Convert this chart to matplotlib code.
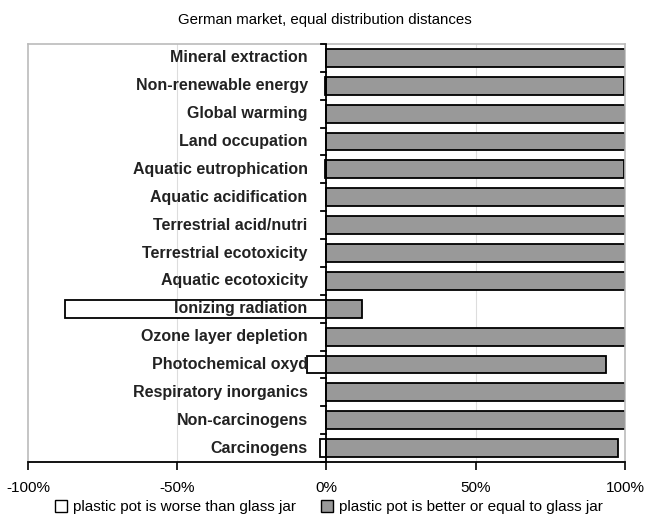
import numpy as np
import matplotlib.pyplot as plt
from matplotlib.patches import Patch
from matplotlib import font_manager

names = [f.name for f in font_manager.fontManager.ttflist]
narrow = 'Liberation Sans Narrow' if 'Liberation Sans Narrow' in names else 'Liberation Sans'
plt.rcParams['font.family'] = [narrow, 'DejaVu Sans']

categories = ['Mineral extraction', 'Non-renewable energy', 'Global warming',
              'Land occupation', 'Aquatic eutrophication', 'Aquatic acidification',
              'Terrestrial acid/nutri', 'Terrestrial ecotoxicity', 'Aquatic ecotoxicity',
              'Ionizing radiation', 'Ozone layer depletion', 'Photochemical oxyd',
              'Respiratory inorganics', 'Non-carcinogens', 'Carcinogens']
worse = [0, -0.5, 0, 0, -0.5, 0, 0, 0, 0, -87.5, 0, -6.4, 0, 0, -2.3]
better = [100, 99.5, 100, 100, 99.5, 100, 100, 100, 100, 12, 100, 93.6, 100, 100, 97.7]

fig = plt.figure(figsize=(6.45, 5.24), dpi=100)
ax = fig.add_axes([0.0434, 0.1183, 0.9256, 0.7977])

y = np.arange(len(categories))
ax.barh(y, worse, height=0.64, color='white', edgecolor='black', linewidth=1.3, zorder=2)
ax.barh(y, better, height=0.64, color='#999999', edgecolor='black', linewidth=1.3, zorder=2)

for yi, name in zip(y, categories):
    ax.text(-6.3, yi, name, ha='right', va='center', fontsize=11.5,
            fontweight='bold', color='#222222', zorder=3)

ax.set_xlim(-100, 100)
ax.set_ylim(len(categories) - 0.5, -0.5)
ax.set_xticks([-100, -50, 0, 50, 100])
ax.set_xticklabels(['-100%', '-50%', '0%', '50%', '100%'], fontsize=11)
ax.tick_params(axis='x', direction='out', length=6, width=1.2, pad=8)
ax.set_yticks([])

# vertical grid
for gx in [-50, 50]:
    ax.axvline(gx, color='#dddddd', linewidth=0.8, zorder=0)

# zero axis with ticks between categories
ax.axvline(0, color='black', linewidth=1.3, zorder=3)
for b in np.arange(-0.5, len(categories), 1.0):
    ax.plot([-1.7, 0], [b, b], color='black', linewidth=1.3, zorder=3, clip_on=False)

for s in ['top', 'left', 'right']:
    ax.spines[s].set_color('#bbbbbb')
    ax.spines[s].set_linewidth(1.2)
ax.spines['bottom'].set_color('black')
ax.spines['bottom'].set_linewidth(1.3)

fig.text(0.504, 0.962, 'German market, equal distribution distances',
         ha='center', va='center', fontsize=10.8)

handles = [Patch(facecolor='white', edgecolor='black', label='plastic pot is worse than glass jar'),
           Patch(facecolor='#999999', edgecolor='black', label='plastic pot is better or equal to glass jar')]
fig.legend(handles=handles, loc='lower center', bbox_to_anchor=(0.51, -0.008), ncol=2,
           frameon=False, fontsize=11, handlelength=0.8, handleheight=0.8,
           handletextpad=0.4, columnspacing=1.6)

fig.savefig('out.png', dpi=100)
